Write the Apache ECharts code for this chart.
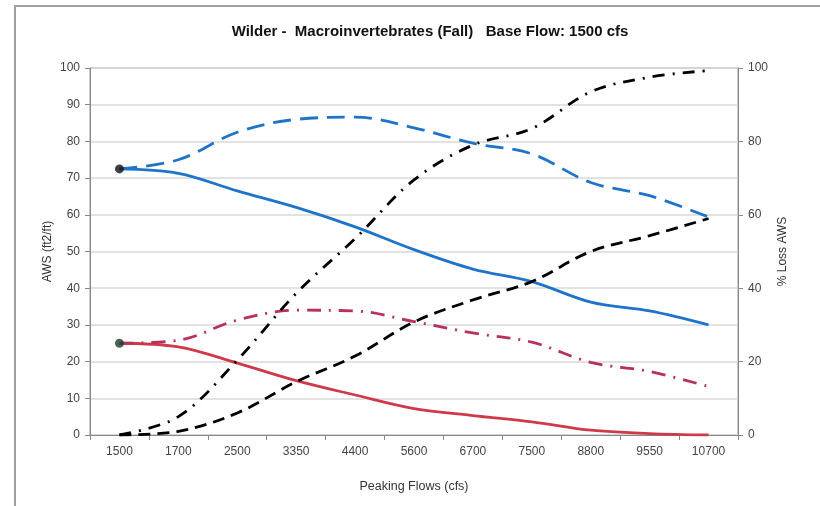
<!DOCTYPE html>
<html>
<head>
<meta charset="utf-8">
<script src="https://cdn.jsdelivr.net/npm/echarts@6/dist/echarts.min.js"></script>
<style>html,body{margin:0;padding:0;background:#fff;}#c{width:820px;height:506px;}</style>
</head>
<body>
<div id="c"></div>
<script>
const categories = ['1500','1700','2500','3350','4400','5600','6700','7500','8800','9550','10700'];
const awsBlueSolid = [72.5, 71.3, 66.5, 62, 56.7, 50.5, 45.2, 41.8, 36.2, 33.8, 30];
const awsBlueDashed = [72.5, 75, 82.5, 86, 86.6, 83.7, 79.5, 76.6, 68.8, 65.2, 59.4];
const awsRedSolid = [25, 24, 19.6, 14.8, 10.9, 7.2, 5.3, 3.6, 1.3, 0.4, 0];
const awsRedDashDot = [25, 25.8, 31.3, 34, 33.8, 30.9, 27.8, 25.3, 19.8, 17.3, 13.2];
const lossDashed = [0, 1, 6, 14.5, 21.5, 30.8, 36.8, 41.8, 50, 54.3, 59];
const lossDashDot = [0, 5, 20.4, 38.6, 53.5, 69.5, 79, 83.5, 93.5, 97.5, 99.3];
const leftTicks = {min: 0, max: 100, interval: 10};
const rightTicks = {min: 0, max: 100, interval: 20};

const chart = echarts.init(document.getElementById('c'), null, {renderer: 'canvas'});
const font = 'Liberation Sans, Arial, sans-serif';
function line(name, data, color, type, yIdx) {
  return {
    name, type: 'line', data, yAxisIndex: yIdx, smooth: 0.35, symbol: 'none',
    lineStyle: {color, width: 2.8, type, cap: 'butt'}, z: 3
  };
}
chart.setOption({
  backgroundColor: '#fff',
  animation: false,
  textStyle: {fontFamily: font},
  title: {
    text: 'Wilder -  Macroinvertebrates (Fall)   Base Flow: 1500 cfs',
    left: 425, top: 19, textAlign: 'center',
    textStyle: {fontSize: 15, fontWeight: 'bold', color: '#111', fontFamily: font}
  },
  graphic: [{
    type: 'rect', shape: {x: 15, y: 6, width: 820, height: 520},
    style: {fill: 'none', stroke: '#a0a0a0', lineWidth: 2}, silent: true
  }],
  grid: {left: 90, right: 82, top: 68, bottom: 71, show: true, borderColor: '#999', borderWidth: 1},
  xAxis: {
    type: 'category', data: categories, boundaryGap: true,
    name: 'Peaking Flows (cfs)', nameLocation: 'middle', nameGap: 45,
    nameTextStyle: {fontSize: 12.5, color: '#333', fontFamily: font},
    axisLine: {lineStyle: {color: '#888'}},
    axisTick: {show: true, length: 5, lineStyle: {color: '#888'}},
    axisLabel: {fontSize: 12, color: '#444', margin: 11, fontFamily: font}
  },
  yAxis: [{
    type: 'value', min: leftTicks.min, max: leftTicks.max, interval: leftTicks.interval,
    name: 'AWS (ft2/ft)', nameLocation: 'middle', nameGap: 36, nameRotate: 90,
    nameMoveOverlap: false,
    nameTextStyle: {fontSize: 12, color: '#333', fontFamily: font},
    axisLine: {show: true, lineStyle: {color: '#888'}},
    axisTick: {show: true, length: 5, lineStyle: {color: '#888'}},
    axisLabel: {fontSize: 12, color: '#444', margin: 10, fontFamily: font},
    splitLine: {show: true, lineStyle: {color: '#d8d8d8', width: 1.5}}
  }, {
    type: 'value', position: 'right', min: rightTicks.min, max: rightTicks.max, interval: rightTicks.interval,
    name: '% Loss AWS', nameLocation: 'middle', nameGap: 39, nameRotate: 90,
    nameMoveOverlap: false,
    nameTextStyle: {fontSize: 12, color: '#333', fontFamily: font},
    axisLine: {show: true, lineStyle: {color: '#888'}},
    axisTick: {show: true, length: 5, lineStyle: {color: '#888'}},
    axisLabel: {fontSize: 12, color: '#444', margin: 10, fontFamily: font},
    splitLine: {show: false}
  }],
  series: [
    line('Blue solid', awsBlueSolid, '#1f74c9', 'solid', 0),
    line('Blue dashed', awsBlueDashed, '#1f74c9', [18, 9], 0),
    line('Red solid', awsRedSolid, '#cf3a4a', 'solid', 0),
    line('Red dash-dot', awsRedDashDot, '#b8305c', [14, 8, 2, 8], 0),
    line('Loss dashed', lossDashed, '#000', [12, 7], 1),
    line('Loss dash-dot', lossDashDot, '#000', [12, 8, 2, 8], 1),
    {
      type: 'scatter', yAxisIndex: 0, symbolSize: 9, z: 5,
      data: [
        {value: [categories[0], awsBlueSolid[0]], itemStyle: {color: '#111'}},
        {value: [categories[0], awsRedSolid[0]], itemStyle: {color: '#1d3d2e'}}
      ]
    }
  ]
});
</script>
</body>
</html>
